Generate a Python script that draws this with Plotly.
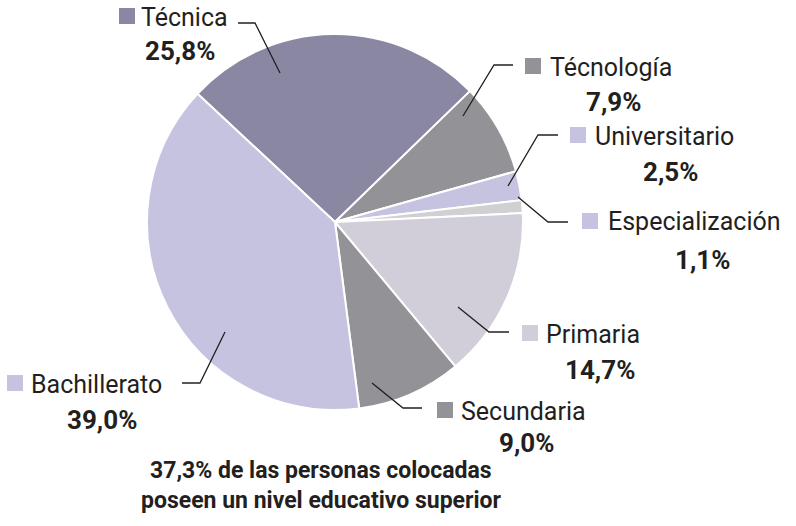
import plotly.graph_objects as go

W, H = 796, 526

# ---- data ----
categories = ["Técnica", "Técnología", "Universitario", "Especialización",
              "Primaria", "Secundaria", "Bachillerato"]
values = [25.8, 7.9, 2.5, 1.1, 14.7, 9.0, 39.0]
value_labels = ["25,8%", "7,9%", "2,5%", "1,1%", "14,7%", "9,0%", "39,0%"]
footnote = ["37,3% de las personas colocadas", "poseen un nivel educativo superior"]

# ---- styles ----
slice_colors = ["#8a87a3", "#939397", "#c6c3e0", "#d0d0d2", "#d1ced9", "#939397", "#c6c3e0"]
swatch_colors = ["#8a87a3", "#939397", "#c6c3e0", "#c6c3e0", "#d1ced9", "#939397", "#c6c3e0"]
TXT = "#231f20"
FONT = "Roboto"

# label layout (page pixel positions)
label_layout = [
    dict(sq=(119, 16), name_x=142, val=(180, 51), line=[(238, 23), (255, 23), (280, 73)]),
    dict(sq=(525, 66), name_x=551, val=(613, 102), line=[(513, 65), (494, 65), (463, 116)]),
    dict(sq=(570, 135), name_x=596, val=(670, 172), line=[(558, 135), (538, 135), (508, 186)]),
    dict(sq=(582, 221), name_x=609, val=(702, 260), line=[(568, 222), (548, 222), (518, 197)]),
    dict(sq=(522, 333), name_x=547, val=(600, 370), line=[(509, 332), (489, 332), (458, 307)]),
    dict(sq=(437, 410), name_x=462, val=(526, 443), line=[(422, 408), (403, 408), (372, 383)]),
    dict(sq=(7, 383), name_x=32, val=(102, 420), line=[(182, 383), (200, 383), (225, 332)]),
]

def px(x):
    return x / W

def py(y):
    return 1 - y / H

cx, cy, r = 335, 222, 188

fig = go.Figure(go.Pie(
    labels=categories,
    values=values,
    sort=False,
    direction="clockwise",
    rotation=313,
    marker=dict(colors=slice_colors, line=dict(color="white", width=2)),
    textinfo="none",
    hoverinfo="label+percent",
    showlegend=False,
    domain=dict(x=[px(cx - r), px(cx + r)], y=[py(cy + r), py(cy - r)]),
))

shapes = []
annotations = []
for name, val, lay, sc in zip(categories, value_labels, label_layout, swatch_colors):
    sx, sy = lay["sq"]
    shapes.append(dict(type="rect", xref="paper", yref="paper",
                       x0=px(sx), x1=px(sx + 16), y0=py(sy + 8), y1=py(sy - 8),
                       fillcolor=sc, line=dict(width=0)))
    pts = lay["line"]
    path = "M " + " L ".join(f"{px(x)},{py(y)}" for x, y in pts)
    shapes.append(dict(type="path", xref="paper", yref="paper", path=path,
                       line=dict(color=TXT, width=1.3)))
    annotations.append(dict(x=px(lay["name_x"] - 3), y=py(sy + 1), xref="paper", yref="paper",
                            text=name, showarrow=False, xanchor="left", yanchor="middle",
                            font=dict(family=FONT, size=25, color=TXT)))
    vx, vy = lay["val"]
    annotations.append(dict(x=px(vx), y=py(vy), xref="paper", yref="paper",
                            text=f"<b>{val}</b>", showarrow=False, xanchor="center", yanchor="middle",
                            font=dict(family=FONT, size=26, color=TXT)))

for i, line in enumerate(footnote):
    annotations.append(dict(x=px(321), y=py(470 + 30 * i), xref="paper", yref="paper",
                            text=f"<b>{line}</b>", showarrow=False, xanchor="center", yanchor="middle",
                            font=dict(family=FONT, size=23, color=TXT)))

fig.update_layout(
    width=W, height=H,
    margin=dict(l=0, r=0, t=0, b=0),
    paper_bgcolor="white", plot_bgcolor="white",
    shapes=shapes, annotations=annotations,
)

fig.write_html("out.html", config={"displayModeBar": False},
               post_script="document.body.style.margin='0px';")
